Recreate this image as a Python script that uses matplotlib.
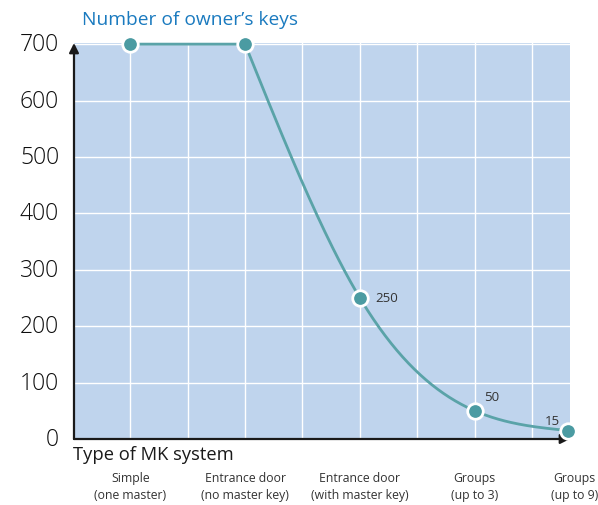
import numpy as np
import matplotlib
matplotlib.use("Agg")
import matplotlib.pyplot as plt

# ---- data ----
categories = ["Simple\n(one master)", "Entrance door\n(no master key)",
              "Entrance door\n(with master key)", "Groups\n(up to 3)", "Groups\n(up to 9)"]
keys = [700, 700, 250, 50, 15]
point_labels = ["", "", "250", "50", "15"]
yticks = [0, 100, 200, 300, 400, 500, 600, 700]

FONT = ["Open Sans", "DejaVu Sans"]
plt.rcParams['font.family'] = FONT

W, H = 598, 506
fig = plt.figure(figsize=(W / 100, H / 100), dpi=100)
L, R, T, B = 74, 570, 44, 440
ax = fig.add_axes([L / W, 1 - B / H, (R - L) / W, (B - T) / H])

# positions of categories along the x axis (layout)
xpos = np.array([0, 1, 2, 3, 3.81])
ax.set_xlim(-0.49, 3.83)
ax.set_ylim(0, 702)

ax.set_facecolor("#bfd4ed")
for s in ax.spines.values():
    s.set_visible(False)

# grid
for yv in yticks[1:]:
    ax.axhline(yv, color="white", lw=1.0, zorder=1)
for gx in np.arange(0, 4.0, 0.5):
    ax.axvline(gx, color="white", lw=1.0, zorder=1)

# curve: straight first segment, natural cubic spline through the rest
xs = xpos[1:]
ys = np.array(keys[1:], dtype=float)
n = len(xs)
h = np.diff(xs)
A = np.zeros((n, n)); rhs = np.zeros(n)
A[0, 0] = 1; A[-1, -1] = 1
for i in range(1, n - 1):
    A[i, i - 1] = h[i - 1]; A[i, i] = 2 * (h[i - 1] + h[i]); A[i, i + 1] = h[i]
    rhs[i] = 6 * ((ys[i + 1] - ys[i]) / h[i] - (ys[i] - ys[i - 1]) / h[i - 1])
M = np.linalg.solve(A, rhs)
cx, cy = [xpos[0]], [keys[0]]
for i in range(n - 1):
    t = np.linspace(xs[i], xs[i + 1], 60)
    a = xs[i + 1] - t; b = t - xs[i]
    yy = (M[i] * a ** 3 + M[i + 1] * b ** 3) / (6 * h[i]) \
        + (ys[i] / h[i] - M[i] * h[i] / 6) * a + (ys[i + 1] / h[i] - M[i + 1] * h[i] / 6) * b
    cx.extend(t); cy.extend(yy)
line_col = "#5aa3a8"
ax.plot(cx, cy, color=line_col, lw=2, zorder=3, clip_on=False)
ax.scatter(xpos, keys, s=125, color="#4b9ba2", edgecolors="white", linewidths=2,
           zorder=4, clip_on=False)

# point labels (offsets in pixels)
offsets = {2: (15, 0, "left"), 3: (9, 14, "left"), 4: (-8, 10, "right")}
for i, lab in enumerate(point_labels):
    if lab:
        dx, dy, ha = offsets[i]
        ax.annotate(lab, (xpos[i], keys[i]), xytext=(dx * 0.72, dy * 0.72),
                    textcoords="offset points", ha=ha, va="center",
                    fontsize=9.5, color="#333333")

# ticks
ax.set_xticks([]); ax.set_yticks([])
for yv in yticks:
    ax.text(-0.62, yv, str(yv), ha="right", va="center", fontsize=16.5,
            color="#0d0d0d", fontweight="light", transform=ax.transData)

# axes arrows
axcol = "#1a1a1a"
ax.annotate("", xy=(0, 1.0), xytext=(0, 0), xycoords="axes fraction",
            arrowprops=dict(arrowstyle="-|>", color=axcol, lw=1.6,
                            mutation_scale=14, shrinkA=0, shrinkB=0))
ax.annotate("", xy=(1.0, 0), xytext=(0, 0), xycoords="axes fraction",
            arrowprops=dict(arrowstyle="-|>", color=axcol, lw=1.6,
                            mutation_scale=14, shrinkA=0, shrinkB=0))

# titles
fig.text(82 / W, 1 - 20 / H, "Number of owner\u2019s keys", ha="left", va="center",
         fontsize=13.8, color="#1a7abf")
fig.text(73 / W, 1 - 455 / H, "Type of MK system", ha="left", va="center",
         fontsize=13.2, color="#1a1a1a")

# category labels
label_shift = [0, 0, 0, 0, 7]
for i, c in enumerate(categories):
    xd = (ax.transData.transform((xpos[i], 0))[0] + label_shift[i]) / W
    fig.text(xd, 1 - 487 / H, c, ha="center", va="center", fontsize=8.8,
             color="#333333", linespacing=1.4)

fig.savefig("out.png", dpi=100)
